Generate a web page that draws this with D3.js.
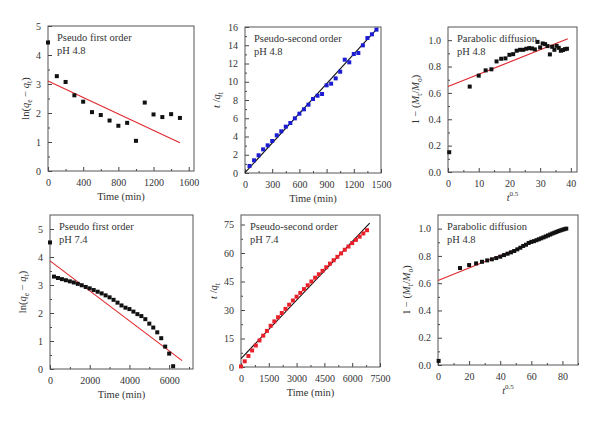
<!DOCTYPE html>
<html><head><meta charset="utf-8">
<script src="https://cdn.jsdelivr.net/npm/d3@7"></script>
<style>body{margin:0;background:#fff}svg{display:block}text{font-family:"Liberation Serif","Times New Roman",serif;fill:#333}</style>
</head><body><svg id="c" width="600" height="423"></svg>
<script>
// ---- data ----
const p1X = [0,100,200,300,400,500,600,700,800,900,1000,1100,1200,1300,1400,1500];
const p1Y = [4.43,3.27,3.07,2.61,2.39,2.03,1.93,1.74,1.56,1.66,1.04,2.36,1.95,1.86,1.96,1.83];
const p1Fit = [[0,3.10],[1500,0.97]];

const p2X = [50,100,150,200,250,300,350,400,450,500,550,600,650,700,750,800,850,900,950,1000,1050,1100,1150,1200,1250,1300,1350,1400,1450];
const p2Y = [0.77,1.39,1.94,2.59,3.03,3.51,4.13,4.57,5.08,5.48,5.99,6.50,6.98,7.49,8.11,8.47,8.66,9.61,9.79,10.37,11.10,12.42,12.13,13.04,13.15,13.99,14.79,15.20,15.71];
const p2Fit = [[0,0.03],[1465,15.9]];

const p3X = [0.4,7.07,10,12.25,14.14,15.81,17.32,18.71,20,21.21,22.36,23.45,24.49,25.5,26.46,27.39,28.28,29.15,30,30.82,31.62,32.4,33.17,33.91,34.64,35.36,36.06,36.74,37.42,38.08,38.73];
const p3Y = [0.15,0.648,0.731,0.771,0.779,0.839,0.859,0.862,0.889,0.894,0.920,0.927,0.927,0.935,0.940,0.937,0.930,0.987,0.945,0.975,0.970,0.955,0.892,0.950,0.927,0.957,0.942,0.920,0.925,0.932,0.935];
const p3Fit = [[0,0.648],[39,1.01]];

const p4X = [0,200,400,600,800,1000,1200,1400,1600,1800,2000,2200,2400,2600,2800,3000,3200,3400,3600,3800,4000,4200,4400,4600,4800,5000,5200,5400,5600,5800,6000,6200];
const p4Y = [4.52,3.30,3.25,3.21,3.17,3.13,3.09,3.04,2.99,2.93,2.88,2.82,2.76,2.70,2.63,2.56,2.47,2.37,2.27,2.19,2.14,2.05,1.96,1.89,1.78,1.62,1.48,1.31,1.10,0.80,0.55,0.10];
const p4Fit = [[0,3.86],[6650,0.30]];

const p5X = [0,200,400,600,800,1000,1200,1400,1600,1800,2000,2200,2400,2600,2800,3000,3200,3400,3600,3800,4000,4200,4400,4600,4800,5000,5200,5400,5600,5800,6000,6200,6400,6600,6800];
const p5Y = [0.3,3.0,5.8,8.7,11.3,14.0,16.5,19.0,21.7,24.0,26.2,28.4,30.6,32.8,35.0,37.0,39.0,41.0,43.0,45.0,47.0,48.8,50.6,52.5,54.4,56.2,58.0,59.8,61.7,63.4,65.2,66.9,68.6,70.3,72.0];
const p5Fit = [[0,4.36],[6944,75.7]];

const p6X = [0.4,14.14,20,24.49,28.28,31.62,34.64,37.42,40,42.43,44.72,46.9,48.99,50.99,52.92,54.77,56.57,58.31,60,61.64,63.25,64.81,66.33,67.82,69.28,70.71,72.11,73.48,74.83,76.16,77.46,78.74,80,81.24,82.46];
const p6Y = [0.03,0.711,0.733,0.745,0.757,0.767,0.775,0.784,0.794,0.806,0.816,0.826,0.836,0.848,0.860,0.873,0.882,0.895,0.903,0.908,0.915,0.922,0.929,0.936,0.943,0.950,0.957,0.964,0.970,0.976,0.982,0.987,0.992,0.996,1.0];
const p6Fit = [[0,0.62],[82.8,1.0]];

const titles = [["Pseudo first order","pH 4.8"],["Pseudo-second order","pH 4.8"],["Parabolic diffusion","pH 4.8"],
                ["Pseudo first order","pH 7.4"],["Pseudo-second order","pH 7.4"],["Parabolic diffusion","pH 4.8"]];

const svg = d3.select("#c");
const FONT = "Liberation Serif, Times New Roman, serif";

function panel(o){
  const g = svg.append("g");
  const x = d3.scaleLinear().domain(o.xd).range([o.l,o.r]);
  const y = d3.scaleLinear().domain(o.yd).range([o.b,o.t]);
  g.append("g").attr("transform",`translate(0,${o.b})`)
    .call(d3.axisBottom(x).tickValues(o.xmin).tickSize(-2).tickFormat(""));
  g.append("g").attr("transform",`translate(${o.l},0)`)
    .call(d3.axisLeft(y).tickValues(o.ymin).tickSize(-2).tickFormat(""));
  g.append("g").attr("transform",`translate(0,${o.b})`)
    .call(d3.axisBottom(x).tickValues(o.xt).tickSize(-4).tickPadding(8).tickFormat(o.xf||d3.format("d")));
  g.append("g").attr("transform",`translate(${o.l},0)`)
    .call(d3.axisLeft(y).tickValues(o.yt).tickSize(-4).tickPadding(7).tickFormat(o.yf||d3.format("d")));
  g.selectAll("g").attr("font-family",FONT);
  g.selectAll(".domain").remove();
  g.selectAll(".tick line").attr("stroke","#444");
  g.selectAll(".tick text").attr("font-size",10).attr("fill","#333");
  g.append("rect").attr("x",o.l).attr("y",o.t).attr("width",o.r-o.l).attr("height",o.b-o.t)
    .attr("fill","none").attr("stroke","#555").attr("stroke-width",1);
  g.append("line").attr("x1",x(o.fit[0][0])).attr("y1",y(o.fit[0][1]))
    .attr("x2",x(o.fit[1][0])).attr("y2",y(o.fit[1][1]))
    .attr("stroke",o.lc).attr("stroke-width",1.1);
  const s = 4;
  g.selectAll("rect.pt").data(o.xs.map((v,i)=>[v,o.ys[i]])).join("rect").attr("class","pt")
    .attr("x",d=>x(d[0])-s/2).attr("y",d=>y(d[1])-s/2).attr("width",s).attr("height",s).attr("fill",o.pc);
  g.append("text").attr("x",o.l+9).attr("y",o.t+15).attr("font-size",10.5).text(o.title[0]);
  g.append("text").attr("x",o.l+9).attr("y",o.t+28).attr("font-size",10.5).text(o.title[1]);
  const xl = g.append("text").attr("x",(o.l+o.r)/2).attr("y",o.b+29).attr("text-anchor","middle").attr("font-size",10.5);
  o.xlab(xl);
  const yl = g.append("text").attr("transform",`translate(${o.yx},${(o.t+o.b)/2}) rotate(-90)`)
    .attr("text-anchor","middle").attr("font-size",10.5);
  o.ylab(yl);
}
function timeLab(t){t.text("Time (min)");}
function tLab(t){t.append("tspan").attr("font-style","italic").text("t");
  t.append("tspan").attr("font-size",7).attr("dy",-5).text("0.5");}
function lnLab(t){t.append("tspan").text("ln(");t.append("tspan").attr("font-style","italic").text("q");
  t.append("tspan").attr("font-size",7.5).attr("dy",3).text("e");
  t.append("tspan").attr("dy",-3).text(" − ");t.append("tspan").attr("font-style","italic").text("q");
  t.append("tspan").attr("font-size",7.5).attr("dy",3).text("t");
  t.append("tspan").attr("dy",-3).text(")");}
function tqLab(t){t.append("tspan").attr("font-style","italic").text("t");t.append("tspan").text(" /");
  t.append("tspan").attr("font-style","italic").text("q");
  t.append("tspan").attr("font-size",7.5).attr("dy",3).text("t");}
function mLab(t){t.append("tspan").text("1 − (");t.append("tspan").attr("font-style","italic").text("M");
  t.append("tspan").attr("font-size",7.5).attr("dy",3).text("t");
  t.append("tspan").attr("dy",-3).text("/");t.append("tspan").attr("font-style","italic").text("M");
  t.append("tspan").attr("font-size",7.5).attr("dy",3).text("o");
  t.append("tspan").attr("dy",-3).text(")");}
const f1 = d3.format(".1f");
const rng = (a,b,s)=>d3.range(a,b+s/2,s);

panel({l:48,r:194,t:26,b:171,xd:[0,1660],yd:[0,5],xt:rng(0,1600,400),xmin:rng(200,1600,400),yt:rng(0,5,1),ymin:rng(0.5,4.5,1),
  xs:p1X,ys:p1Y,fit:p1Fit,pc:"#111",lc:"#e0282e",title:titles[0],xlab:timeLab,ylab:lnLab,yx:29});
panel({l:245,r:381,t:27,b:173,xd:[0,1500],yd:[0,16],xt:rng(0,1500,300),xmin:rng(150,1350,300),yt:rng(0,16,2),ymin:rng(1,15,2),
  xs:p2X,ys:p2Y,fit:p2Fit,pc:"#1c1cd0",lc:"#111",title:titles[1],xlab:timeLab,ylab:tqLab,yx:220});
panel({l:448,r:577,t:27,b:172,xd:[0,42],yd:[0,1.1],xt:rng(0,40,10),xmin:rng(5,35,10),yt:rng(0,1,0.2),ymin:rng(0.1,0.9,0.2),yf:f1,
  xs:p3X,ys:p3Y,fit:p3Fit,pc:"#111",lc:"#e0282e",title:titles[2],xlab:tLab,ylab:mLab,yx:419});
panel({l:50,r:193,t:215,b:369,xd:[0,7200],yd:[0,5.5],xt:rng(0,6000,2000),xmin:rng(1000,7000,2000),yt:rng(0,5,1),ymin:rng(0.5,4.5,1),
  xs:p4X,ys:p4Y,fit:p4Fit,pc:"#111",lc:"#e0282e",title:titles[3],xlab:timeLab,ylab:lnLab,yx:26});
panel({l:241,r:380,t:215,b:367,xd:[0,7500],yd:[0,80],xt:rng(0,7500,1500),xmin:rng(750,6750,1500),yt:rng(0,75,15),ymin:rng(7.5,67.5,15),
  xs:p5X,ys:p5Y,fit:p5Fit,pc:"#e8202a",lc:"#111",title:titles[4],xlab:timeLab,ylab:tqLab,yx:217});
panel({l:438,r:578,t:215,b:365,xd:[0,90],yd:[0,1.1],xt:rng(0,80,20),xmin:rng(10,90,20),yt:rng(0,1,0.2),ymin:rng(0.1,0.9,0.2),yf:f1,
  xs:p6X,ys:p6Y,fit:p6Fit,pc:"#111",lc:"#e0282e",title:titles[5],xlab:tLab,ylab:mLab,yx:410});
</script></body></html>
